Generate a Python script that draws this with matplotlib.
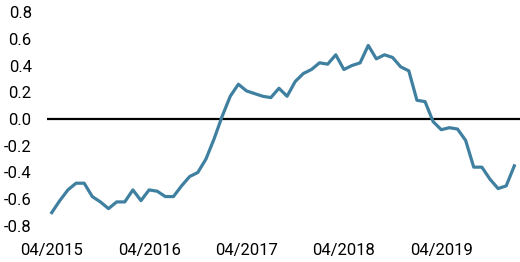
import numpy as np
import matplotlib
matplotlib.use("Agg")
import matplotlib.pyplot as plt

plt.rcParams['font.family'] = ['Roboto', 'DejaVu Sans']
plt.rcParams['axes.unicode_minus'] = False

# monthly values, 04/2015 .. 01/2020
values = [-0.70, -0.61, -0.53, -0.48, -0.48, -0.58, -0.62, -0.67, -0.62, -0.62,
          -0.53, -0.61, -0.53, -0.54, -0.58, -0.58, -0.50, -0.43, -0.40, -0.30,
          -0.15, 0.02, 0.17, 0.26, 0.21, 0.19, 0.17, 0.16, 0.23, 0.17,
          0.28, 0.34, 0.37, 0.42, 0.41, 0.48, 0.37, 0.40, 0.42, 0.55,
          0.45, 0.48, 0.46, 0.39, 0.36, 0.14, 0.13, -0.02, -0.08, -0.065,
          -0.075, -0.16, -0.36, -0.36, -0.45, -0.52, -0.50, -0.35]
tick_pos = [0, 12, 24, 36, 48]
tick_labels = ['04/2015', '04/2016', '04/2017', '04/2018', '04/2019']
y_ticks = [0.8, 0.6, 0.4, 0.2, 0.0, -0.2, -0.4, -0.6, -0.8]

fig = plt.figure(figsize=(5.2, 2.62), dpi=100)
ax = fig.add_axes([47/520, 36/262, 473/520, 214/262])

x = np.arange(len(values))
ax.axhline(0, color='black', linewidth=1.6, zorder=1)
ax.plot(x, values, color='#3f80a0', linewidth=2.3, zorder=2)

ax.set_xlim(-0.58, 57.7)
ax.set_ylim(-0.8, 0.8)
ax.set_yticks(y_ticks)
ax.set_yticklabels(['%.1f' % v for v in y_ticks])
ax.set_xticks(tick_pos)
ax.set_xticklabels(tick_labels)
ax.tick_params(axis='both', length=0, labelsize=12, colors='black')
ax.tick_params(axis='y', pad=11)
ax.tick_params(axis='x', pad=12)
for s in ax.spines.values():
    s.set_visible(False)

fig.savefig('out.png', dpi=100)
